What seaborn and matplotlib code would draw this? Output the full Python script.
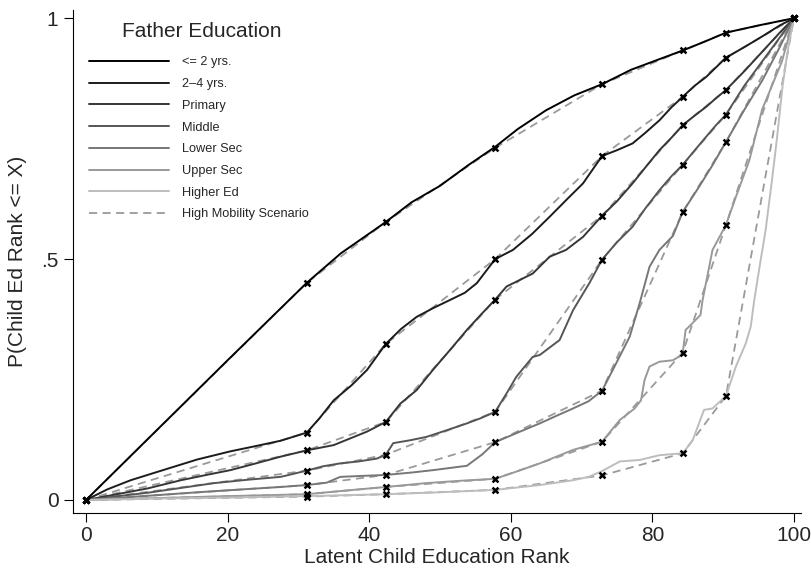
import numpy as np
import pandas as pd
import matplotlib
matplotlib.use("Agg")
import matplotlib.pyplot as plt
import seaborn as sns
from matplotlib.lines import Line2D

# --- data ---
groups = ["<= 2 yrs.", "2\u20134 yrs.", "Primary", "Middle", "Lower Sec", "Upper Sec", "Higher Ed"]
colors = ["#000000", "#1c1c1c", "#363636", "#555555", "#777777", "#999999", "#bdbdbd"]

# knots of the high mobility scenario (cumulative father-education shares)
knot_x = [0, 31.2, 42.35, 57.8, 72.9, 84.3, 90.4, 100]
scen_1 = [0, .451, .577, .731, .863, .933, .970, 1]
scen_2 = [0, .140, .324, .500, .714, .837, .918, 1]
scen_3 = [0, .103, .162, .416, .590, .778, .851, 1]
scen_4 = [0, .061, .094, .183, .499, .696, .800, 1]
scen_5 = [0, .031, .052, .120, .227, .598, .743, 1]
scen_6 = [0, .012, .027, .044, .121, .306, .571, 1]
scen_7 = [0, .007, .012, .021, .051, .097, .216, 1]

# observed curves
x_1 = [0, 10, 20, 31.2, 36, 42.35, 46, 50, 54, 57.8, 61, 65, 69, 72.9, 77, 81, 84.3, 87.5, 90.4, 95, 100]
y_1 = [0, .145, .29, .451, .512, .577, .618, .652, .695, .733, .77, .809, .84, .863, .893, .915, .933, .952, .970, .985, 1]

x_2 = [0, 3, 6.3, 10, 15.7, 20.4, 24, 27.5, 31.2, 33, 35, 37.5, 39.7, 42.35, 44.5, 46.7, 49, 51.4, 53.5, 55.2,
       57.8, 60.3, 63, 65.5, 68, 70.2, 72.9, 75, 77.2, 79, 81, 82.7, 84.3, 86, 87.6, 89, 90.4, 93, 95.5, 98, 100]
y_2 = [0, .022, .041, .058, .084, .101, .112, .123, .140, .170, .207, .238, .27, .324, .355, .380, .398, .415, .43, .450,
       .500, .519, .552, .588, .625, .657, .714, .726, .740, .762, .788, .815, .837, .86, .878, .898, .918, .94, .962, .985, 1]

x_3 = [0, 4, 8.7, 13.4, 17, 20.4, 24, 27.5, 31.2, 35, 39.7, 42.35, 44.4, 46.7, 49, 51.4, 53.8, 55.8, 57.8, 59.4,
       63.1, 65.5, 67.8, 70.2, 72.9, 75, 77.2, 79, 81, 82.7, 84.3, 86, 87.6, 89, 90.4, 93, 95.5, 98, 100]
y_3 = [0, .011, .024, .041, .052, .062, .076, .090, .103, .114, .142, .162, .200, .228, .27, .311, .353, .385, .416, .443,
       .470, .505, .519, .546, .590, .62, .657, .69, .726, .752, .778, .798, .816, .834, .851, .89, .93, .97, 1]

x_4 = [0, 4, 8.7, 13.4, 18.1, 22.8, 27.5, 31.2, 33.5, 35.9, 38.5, 41.1, 42.35, 43.4, 45.8, 48.1, 51, 53.8, 55.8, 57.8,
       59.4, 60.8, 63.1, 64.1, 66.9, 68.8, 71.1, 72.9, 75, 77.2, 79, 81, 82.7, 84.3, 86, 87.6, 89, 90.4, 93, 95.5, 98, 100]
y_4 = [0, .007, .015, .025, .035, .042, .048, .061, .07, .076, .08, .086, .094, .118, .124, .131, .145, .159, .17, .183,
       .221, .256, .297, .301, .332, .394, .45, .499, .535, .567, .605, .643, .672, .696, .726, .754, .778, .800, .86, .91, .96, 1]

x_5 = [0, 5, 10, 15.7, 21, 27.5, 31.2, 34, 35.9, 39, 42.35, 46, 49.05, 53.8, 56, 57.8, 61, 64.1, 66.5, 68.8, 71,
       72.9, 74.9, 76.8, 78.2, 79.6, 81, 82.9, 84.3, 86.6, 88.5, 90.4, 93, 95.5, 98, 100]
y_5 = [0, .005, .01, .016, .021, .027, .031, .036, .048, .05, .052, .057, .062, .071, .095, .120, .14, .159, .175, .190, .205,
       .227, .284, .339, .408, .484, .519, .548, .598, .65, .695, .743, .81, .87, .94, 1]

x_6 = [0, 10, 20, 31.2, 37, 42.35, 48, 53, 57.8, 61, 64.1, 68.8, 72.9, 75.4, 77.5, 78.4, 78.9, 79.6, 81, 82.9, 83.8,
       84.3, 84.7, 85.2, 86.8, 87.1, 88.5, 90.4, 91.8, 93.7, 95.5, 98.3, 100]
y_6 = [0, .004, .008, .012, .02, .027, .035, .04, .044, .06, .076, .104, .121, .166, .19, .207, .249, .277, .287, .29, .298,
       .306, .353, .36, .384, .415, .519, .571, .629, .705, .81, .91, 1]

x_7 = [0, 10, 20, 31.2, 42.35, 50, 57.8, 64.1, 68.8, 71, 72.9, 75.4, 78.2, 81, 84.3, 85.7, 87.3, 88.5, 90.4,
       91.8, 93.2, 93.9, 94.4, 95.1, 96, 96.9, 97.6, 98.4, 99.2, 100]
y_7 = [0, .003, .005, .008, .012, .016, .021, .031, .041, .048, .060, .080, .083, .093, .097, .124, .187, .19, .216,
       .277, .325, .36, .415, .48, .56, .664, .75, .86, .94, 1]

obs_x = [x_1, x_2, x_3, x_4, x_5, x_6, x_7]
obs_y = [y_1, y_2, y_3, y_4, y_5, y_6, y_7]
scen = [scen_1, scen_2, scen_3, scen_4, scen_5, scen_6, scen_7]

df_obs = pd.concat([pd.DataFrame({"x": xs, "y": ys, "group": g})
                    for xs, ys, g in zip(obs_x, obs_y, groups)], ignore_index=True)
df_scen = pd.concat([pd.DataFrame({"x": knot_x, "y": s, "group": g})
                     for s, g in zip(scen, groups)], ignore_index=True)

# --- plot ---
sns.set_style("ticks")
plt.rcParams["font.family"] = ["Liberation Sans", "DejaVu Sans"]

W, H = 812, 571
fig = plt.figure(figsize=(W / 100, H / 100), dpi=100)
# axis lines sit at x=73px and y=513px, plot region to ~801px / 10px
ax = fig.add_axes([73 / W, 1 - 513 / H, (801 - 73) / W, (513 - 10) / H])

dash_col = "#9a9a9a"
for g in groups:
    sub = df_scen[df_scen["group"] == g]
    sns.lineplot(data=sub, x="x", y="y", color=dash_col, lw=1.3,
                 linestyle=(0, (4.5, 3)), estimator=None, sort=False, ax=ax, zorder=2)

sns.lineplot(data=df_obs, x="x", y="y", hue="group", hue_order=groups, palette=colors,
             lw=1.4, estimator=None, sort=False, legend=False, ax=ax, zorder=3)

sns.scatterplot(data=df_scen, x="x", y="y", marker="x", color="black", s=18,
                linewidth=1.8, legend=False, ax=ax, zorder=4)

ax.set_xlim(-1.84, 101.0)
ax.set_ylim(-0.027, 1.017)
ax.set_xticks([0, 20, 40, 60, 80, 100])
ax.set_yticks([0, 0.5, 1])
ax.set_yticklabels(["0", ".5", "1"])
ax.tick_params(axis="both", labelsize=15, length=6.5, width=0.8, color="black", pad=3)
ax.tick_params(axis="y", pad=4)
ax.set_xlabel("Latent Child Education Rank", fontsize=15, labelpad=2)
ax.set_ylabel("P(Child Ed Rank <= X)", fontsize=15, labelpad=10)
sns.despine(ax=ax)
for sp in ["left", "bottom"]:
    ax.spines[sp].set_linewidth(0.8)
    ax.spines[sp].set_color("black")

# legend: title as separate text so the gap matches
fig.text(202 / W, 1 - 31.5 / H, "Father Education", fontsize=15, ha="center", va="center")
handles = [Line2D([], [], color=c, lw=1.4) for c in colors]
handles.append(Line2D([], [], color=dash_col, lw=1.3, linestyle=(0, (4.5, 3))))
labels = groups + ["High Mobility Scenario"]
ax.legend(handles, labels, loc="upper left", bbox_to_anchor=(89 / W, 1 - 56.5 / H),
          bbox_transform=fig.transFigure, frameon=False, fontsize=9.2,
          handlelength=6.25, handletextpad=1.0, labelspacing=0.76,
          borderpad=0, borderaxespad=0)

fig.savefig("out.png", dpi=100)
